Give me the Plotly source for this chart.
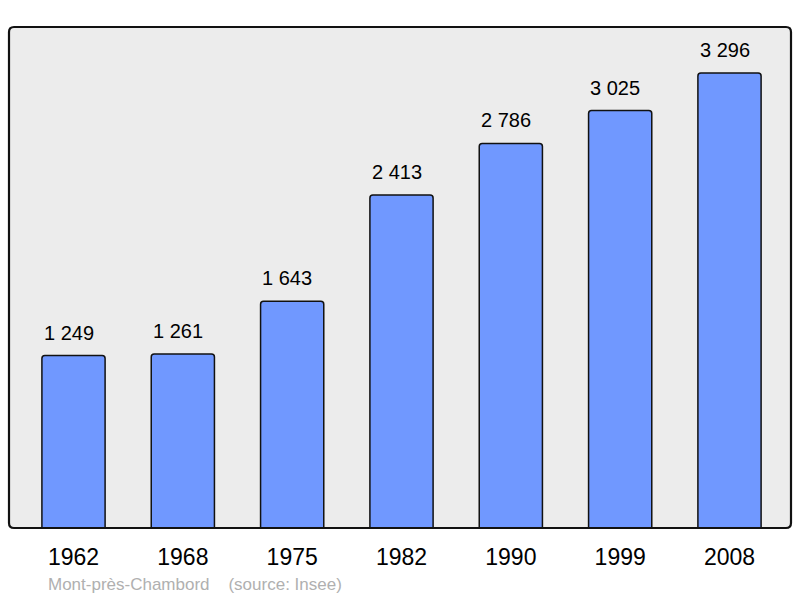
import plotly.graph_objects as go

years = ["1962", "1968", "1975", "1982", "1990", "1999", "2008"]
population = [1249, 1261, 1643, 2413, 2786, 3025, 3296]
labels = ["1 249", "1 261", "1 643", "2 413", "2 786", "3 025", "3 296"]
footer = "Mont-près-Chambord&nbsp;&nbsp;&nbsp;&nbsp;(source: Insee)"

xs = list(range(len(years)))
FONT = "Liberation Sans, Arial, sans-serif"

fig = go.Figure()
fig.add_trace(go.Bar(
    x=xs, y=population, width=0.578,
    marker=dict(color="#7098ff", line=dict(color="#111111", width=1.5), cornerradius=3),
    hoverinfo="skip",
))

for i, (v, t) in enumerate(zip(population, labels)):
    fig.add_annotation(x=i, y=v, text=t, showarrow=False, yanchor="bottom",
                       yshift=10, xshift=-5, font=dict(size=20, color="#000000", family=FONT))

fig.add_annotation(xref="paper", yref="paper", x=0.0474, y=-0.112, xanchor="left",
                   yanchor="middle", text=footer, showarrow=False,
                   font=dict(size=17, color="#b0b0b0", family=FONT))

# rounded frame path in paper coordinates
rx, ry = 5 / 782, 5 / 501
path = (f"M {rx},0 L {1-rx},0 Q 1,0 1,{ry} L 1,{1-ry} Q 1,1 {1-rx},1 "
        f"L {rx},1 Q 0,1 0,{1-ry} L 0,{ry} Q 0,0 {rx},0 Z")
fig.add_shape(type="path", xref="paper", yref="paper", path=path,
              line=dict(color="#111111", width=2.2), fillcolor="rgba(0,0,0,0)", layer="above")

fig.update_layout(
    width=800, height=598,
    margin=dict(l=9, r=9, t=27, b=70),
    paper_bgcolor="#ffffff", plot_bgcolor="#ececec",
    showlegend=False,
    font=dict(family=FONT),
    xaxis=dict(range=[-0.59, 6.5625], tickvals=xs, ticktext=years, showgrid=False,
               zeroline=False, showline=False, ticks="", ticklabelstandoff=13,
               tickfont=dict(size=23, color="#000000"), fixedrange=True),
    yaxis=dict(range=[0, 3630], showgrid=False, zeroline=False, showline=False,
               showticklabels=False, ticks="", fixedrange=True),
)

fig.write_html("out.html", config={"displayModeBar": False},
               post_script="document.body.style.margin='0';document.body.style.overflow='hidden';")
